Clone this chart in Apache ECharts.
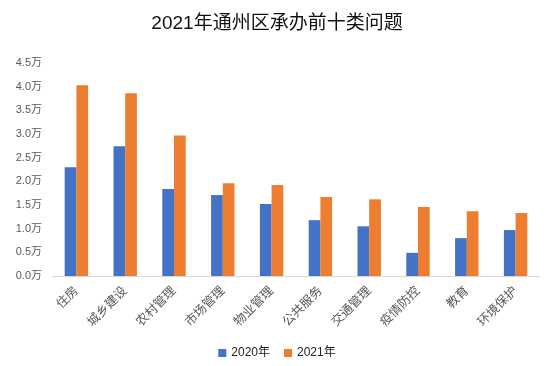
<!DOCTYPE html>
<html><head><meta charset="utf-8">
<script src="https://cdn.jsdelivr.net/npm/echarts@6/dist/echarts.min.js"></script>
<style>html,body{margin:0;padding:0;background:#fff}#c{width:554px;height:366px}</style>
</head><body><div id="c"></div>
<script>
const categories = ['住房','城乡建设','农村管理','市场管理','物业管理','公共服务','交通管理','疫情防控','教育','环境保护'];
const values2020 = [2.30, 2.74, 1.84, 1.71, 1.52, 1.18, 1.05, 0.49, 0.80, 0.97];
const values2021 = [4.03, 3.86, 2.97, 1.96, 1.92, 1.67, 1.62, 1.46, 1.37, 1.33];
const seriesNames = ['2020年','2021年'];
const titleText = '2021年通州区承办前十类问题';

const chart = echarts.init(document.getElementById('c'));
const font = '"Liberation Sans", "Noto Sans CJK SC", sans-serif';
chart.setOption({
  animation: false,
  textStyle: {fontFamily: font},
  title: {text: titleText, left: 'center', top: 9, textStyle: {fontSize: 19, fontWeight: 'normal', color: '#111', fontFamily: font}},
  legend: {data: seriesNames, bottom: 2, left: 'center', itemWidth: 8, itemHeight: 8, icon: 'rect', itemGap: 14,
    textStyle: {fontSize: 12, color: '#222', fontFamily: font}},
  grid: {left: 52, right: 14, top: 63, bottom: 90},
  xAxis: {type: 'category', data: categories,
    axisLine: {lineStyle: {color: '#d9d9d9', width: 1}},
    axisTick: {show: false},
    axisLabel: {rotate: 45, interval: 0, fontSize: 12.5, color: '#595959', margin: 13, fontFamily: font}},
  yAxis: {type: 'value', min: 0, max: 4.5, interval: 0.5,
    splitLine: {show: false}, axisLine: {show: false}, axisTick: {show: false},
    axisLabel: {fontSize: 11, color: '#595959', margin: 10, formatter: v => v.toFixed(1) + '万', fontFamily: font}},
  series: [
    {name: seriesNames[0], type: 'bar', data: values2020, barGap: '0%', barCategoryGap: '52%', itemStyle: {color: '#4472C4'}},
    {name: seriesNames[1], type: 'bar', data: values2021, barGap: '0%', barCategoryGap: '52%', itemStyle: {color: '#ED7D31'}}
  ]
});
</script></body></html>
